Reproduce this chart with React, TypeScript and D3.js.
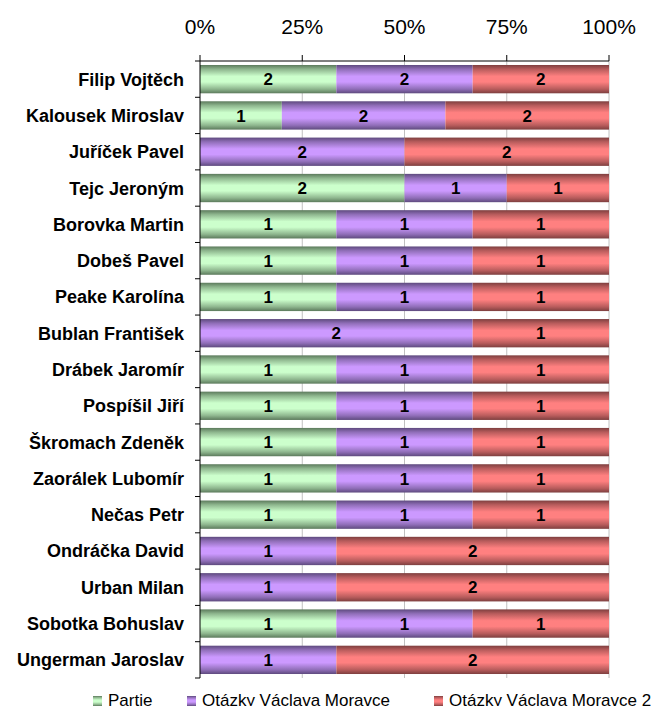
import React from 'react';
import * as d3 from 'd3';

const names = [
  'Filip Vojtěch', 'Kalousek Miroslav', 'Juříček Pavel', 'Tejc Jeroným',
  'Borovka Martin', 'Dobeš Pavel', 'Peake Karolína', 'Bublan František',
  'Drábek Jaromír', 'Pospíšil Jiří', 'Škromach Zdeněk', 'Zaorálek Lubomír',
  'Nečas Petr', 'Ondráčka David', 'Urban Milan', 'Sobotka Bohuslav',
  'Ungerman Jaroslav',
];
const partie = [2, 1, 0, 2, 1, 1, 1, 0, 1, 1, 1, 1, 1, 0, 0, 1, 0];
const otazky = [2, 2, 2, 1, 1, 1, 1, 2, 1, 1, 1, 1, 1, 1, 1, 1, 1];
const otazky2 = [2, 2, 2, 1, 1, 1, 1, 1, 1, 1, 1, 1, 1, 2, 2, 1, 2];
const seriesNames = ['Partie', 'Otázky Václava Moravce', 'Otázky Václava Moravce 2'];
const tickValues = [0, 0.25, 0.5, 0.75, 1];

const palette = [
  { id: 'g-green', light: '#ccffcc', dark: '#5c7a5c' },
  { id: 'g-purple', light: '#cc99ff', dark: '#5e4a7e' },
  { id: 'g-red', light: '#ff8080', dark: '#7e3f3f' },
];

const W = 655;
const H = 706;
const margin = { top: 61, right: 46, bottom: 28, left: 200 };
const font = 'Arial, "Liberation Sans", sans-serif';

export default function App() {
  const innerW = W - margin.left - margin.right;
  const x = d3.scaleLinear().domain([0, 1]).range([margin.left, margin.left + innerW]);
  const y = d3.scaleBand<string>()
    .domain(names)
    .range([margin.top, H - margin.bottom])
    .paddingInner(0.22)
    .paddingOuter(0.11);

  const rows = names.map((name, i) => ({ name, p: partie[i], o: otazky[i], o2: otazky2[i] }));
  const stack = d3.stack<any>()
    .keys(['p', 'o', 'o2'])
    .offset(d3.stackOffsetExpand)(rows);

  const y0 = margin.top;
  const y1 = H - margin.bottom;
  const step = y.step();

  return (
    <svg width={W} height={H} style={{ position: 'absolute', left: 0, top: 0, background: '#fff' }}>
      <defs>
        {palette.map((c) => (
          <linearGradient key={c.id} id={c.id} x1="0" y1="0" x2="0" y2="1">
            <stop offset="0" stopColor={c.dark} />
            <stop offset="0.15" stopColor={d3.interpolateRgb(c.dark, c.light)(0.45)} />
            <stop offset="0.4" stopColor={c.light} />
            <stop offset="0.6" stopColor={c.light} />
            <stop offset="0.85" stopColor={d3.interpolateRgb(c.dark, c.light)(0.45)} />
            <stop offset="1" stopColor={c.dark} />
          </linearGradient>
        ))}
      </defs>

      {/* gridlines */}
      {tickValues.slice(1).map((t) => (
        <line key={`g${t}`} x1={x(t)} x2={x(t)} y1={y0} y2={y1} stroke="#c0c0c0" strokeWidth={1} />
      ))}

      {/* bars */}
      {stack.map((s, si) => (
        <g key={s.key}>
          {s.map((d, i) => {
            const v = [partie, otazky, otazky2][si][i];
            if (!v) return null;
            const xa = x(d[0]);
            const xb = x(d[1]);
            const yy = y(names[i])!;
            return (
              <g key={i}>
                <rect x={xa} y={yy} width={xb - xa} height={y.bandwidth()} fill={`url(#${palette[si].id})`} />
                <text
                  x={(xa + xb) / 2}
                  y={yy + y.bandwidth() / 2}
                  dy="0.36em"
                  textAnchor="middle"
                  fontFamily={font}
                  fontWeight="bold"
                  fontSize={17}
                >{v}</text>
              </g>
            );
          })}
        </g>
      ))}

      {/* top axis */}
      <line x1={margin.left} x2={x(1)} y1={y0} y2={y0} stroke="#000" />
      {tickValues.map((t) => (
        <g key={`t${t}`}>
          <line x1={x(t)} x2={x(t)} y1={y0} y2={y0 - 6} stroke="#000" />
          <text x={x(t)} y={34} textAnchor="middle" fontFamily={font} fontSize={21}>
            {d3.format('.0%')(t)}
          </text>
        </g>
      ))}

      {/* left axis */}
      <line x1={margin.left} x2={margin.left} y1={y0} y2={y1} stroke="#000" />
      {d3.range(names.length + 1).map((i) => (
        <line key={`l${i}`} x1={margin.left - 5} x2={margin.left} y1={y0 + i * step} y2={y0 + i * step} stroke="#000" />
      ))}
      {names.map((n) => (
        <text
          key={n}
          x={184}
          y={y(n)! + y.bandwidth() / 2}
          dy="0.36em"
          textAnchor="end"
          fontFamily={font}
          fontWeight="bold"
          fontSize={18}
        >{n}</text>
      ))}

      {/* legend */}
      {seriesNames.map((s, i) => {
        const lx = [93, 187, 434][i];
        return (
          <g key={s}>
            <rect x={lx} y={696} width={9} height={10} fill={`url(#${palette[i].id})`} />
            <text x={lx + 15} y={706} fontFamily={font} fontSize={17}>{s}</text>
          </g>
        );
      })}
    </svg>
  );
}
